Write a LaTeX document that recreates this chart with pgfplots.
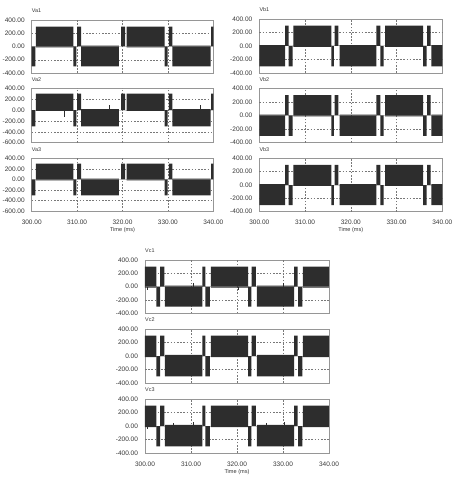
\documentclass[border=0pt]{standalone}
\usepackage{fontspec}
\setmainfont{Liberation Sans}
\usepackage{pgfplots}
\usepackage{pgfplotstable}
\pgfplotsset{compat=1.18}

\definecolor{wavec}{RGB}{45,45,45}
\definecolor{framec}{RGB}{150,150,150}
\definecolor{gridc}{RGB}{120,120,120}
\definecolor{txtc}{RGB}{55,55,55}

% phase a
\pgfplotstableread{
t v
300.0 -300
300.8 0
300.9 300
309.2 -300
309.85 0
310.0 300
310.9 -300
319.2 0
319.7 300
320.6 0
320.9 300
329.3 -300
329.95 0
330.2 300
331.0 -300
339.4 0
339.5 300
340.0 300
}\vaWave
\pgfplotstableread{
t v
300.9 -15
309.2 0
310.9 15
319.2 0
320.9 -15
329.3 0
331.0 15
339.4 0
340.0 0
}\vaRip

% phase b
\pgfplotstableread{
t v
300.0 -300
305.65 300
306.4 -300
307.3 0
307.45 300
315.75 -300
316.3 0
316.45 300
317.3 0
317.55 -300
325.6 300
326.45 -300
327.2 0
327.5 300
335.8 -300
336.55 0
336.7 300
337.45 0
337.6 -300
340.0 -300
}\vbWave
\pgfplotstableread{
t v
300.0 12
305.65 0
307.45 -12
315.75 0
317.55 12
325.6 0
327.5 -12
335.8 0
337.6 12
340.0 12
}\vbRip

% phase c
\pgfplotstableread{
t v
300.0 300
302.5 -300
303.3 300
304.2 0
304.3 -300
312.5 300
313.1 -300
314.1 0
314.3 300
322.4 -300
323.1 0
323.2 300
324.1 0
324.3 -300
332.4 300
333.2 0
333.3 -300
334.2 0
334.3 300
340.0 300
}\vcWave
\pgfplotstableread{
t v
300.0 -15
302.5 0
304.3 15
312.5 0
314.3 -15
322.4 0
324.3 15
332.4 0
334.3 -15
340.0 -15
}\vcRip

\pgfplotsset{
  panel/.style={
    scale only axis,
    anchor=north west,
    xmin=300, xmax=340,
    ymin=-400, ymax=400,
    xtick={300,310,320,330,340},
    xticklabels={},
    ytick={-400,-200,0,200,400},
    yticklabels={-400.00,-200.00,0.00,200.00,400.00},
    major tick length=0pt,
    extra x ticks={310,320,330},
    extra x tick labels={},
    extra x tick style={grid=major, major tick length=0pt},
    extra y ticks={-200,200},
    extra y tick labels={},
    extra y tick style={grid=major, major tick length=0pt},
    grid style={gridc, dash pattern=on 1.6pt off 1.6pt, line width=0.45pt},
    axis line style={framec, line width=0.5pt},
    tick label style={font=\fontsize{6.5}{7}\selectfont, text=txtc},
    yticklabel style={xshift=-3.5pt},
    title style={at={(0,1)}, anchor=south west, inner sep=0pt,
      yshift=1pt, font=\fontsize{5.4}{6}\selectfont, text=txtc},
  },
  six/.style={
    ymin=-600, ymax=400,
    ytick={-600,-400,-200,0,200,400},
    yticklabels={-600.00,-400.00,-200.00,0.00,200.00,400.00},
    extra y ticks={-400,-200,200},
  },
  bottom/.style={
    xticklabels={300.00,310.00,320.00,330.00,340.00},
    xticklabel style={yshift=-5pt},
    xlabel={Time (ms)},
    xlabel style={font=\fontsize{5.6}{6}\selectfont, text=txtc, yshift=4pt},
  },
  wave/.style={const plot mark left, fill=wavec, draw=none},
  spike/.style={draw=wavec, line width=0.6pt},
}

\begin{document}
\begin{tikzpicture}
\useasboundingbox (0,0) rectangle (458pt,480pt);

% ---- phase a ----
\begin{axis}[panel, at={(31.7pt,460pt)}, width=181.6pt, height=53pt, title={Va1}]
\addplot[wave] table {\vaWave} \closedcycle;
\addplot[wave] table {\vaRip} \closedcycle;
\end{axis}

\begin{axis}[panel, six, at={(31.7pt,391.7pt)}, width=181.6pt, height=54.4pt, title={Va2}]
\addplot[wave] table {\vaWave} \closedcycle;
\addplot[wave] table {\vaRip} \closedcycle;
\addplot[spike] coordinates {(307.2,0)(307.2,-130)};
\addplot[spike] coordinates {(317.2,0)(317.2,90)};
\addplot[spike] coordinates {(337.2,0)(337.2,90)};
\end{axis}

\begin{axis}[panel, six, bottom, at={(31.7pt,321.7pt)}, width=181.6pt, height=53pt, title={Va3}]
\addplot[wave] table {\vaWave} \closedcycle;
\addplot[wave] table {\vaRip} \closedcycle;
\end{axis}

% ---- phase b ----
\begin{axis}[panel, at={(259.3pt,461pt)}, width=183pt, height=54pt, title={Vb1}]
\addplot[wave] table {\vbWave} \closedcycle;
\addplot[wave] table {\vbRip} \closedcycle;
\end{axis}

\begin{axis}[panel, at={(259.3pt,391.7pt)}, width=183pt, height=54.4pt, title={Vb2}]
\addplot[wave] table {\vbWave} \closedcycle;
\addplot[wave] table {\vbRip} \closedcycle;
\end{axis}

\begin{axis}[panel, bottom, at={(259.3pt,321.7pt)}, width=183pt, height=53.4pt, title={Vb3}]
\addplot[wave] table {\vbWave} \closedcycle;
\addplot[wave] table {\vbRip} \closedcycle;
\end{axis}

% ---- phase c ----
\begin{axis}[panel, at={(145pt,220pt)}, width=184pt, height=53.3pt, title={Vc1}]
\addplot[wave] table {\vcWave} \closedcycle;
\addplot[wave] table {\vcRip} \closedcycle;
\addplot[spike] coordinates {(300.4,0)(300.4,-50)};
\addplot[spike] coordinates {(310.4,0)(310.4,60)};
\addplot[spike] coordinates {(320.3,0)(320.3,-50)};
\addplot[spike] coordinates {(330.1,0)(330.1,60)};
\end{axis}

\begin{axis}[panel, at={(145pt,151pt)}, width=184pt, height=54pt, title={Vc2}]
\addplot[wave] table {\vcWave} \closedcycle;
\addplot[wave] table {\vcRip} \closedcycle;
\end{axis}

\begin{axis}[panel, bottom, at={(145pt,81pt)}, width=184pt, height=54pt, title={Vc3}]
\addplot[wave] table {\vcWave} \closedcycle;
\addplot[wave] table {\vcRip} \closedcycle;
\addplot[spike] coordinates {(300.6,0)(300.6,-50)};
\addplot[spike] coordinates {(306.2,0)(306.2,50)};
\addplot[spike] coordinates {(310.4,0)(310.4,60)};
\addplot[spike] coordinates {(326.3,0)(326.3,50)};
\addplot[spike] coordinates {(330.3,0)(330.3,60)};
\end{axis}
\end{tikzpicture}
\end{document}
